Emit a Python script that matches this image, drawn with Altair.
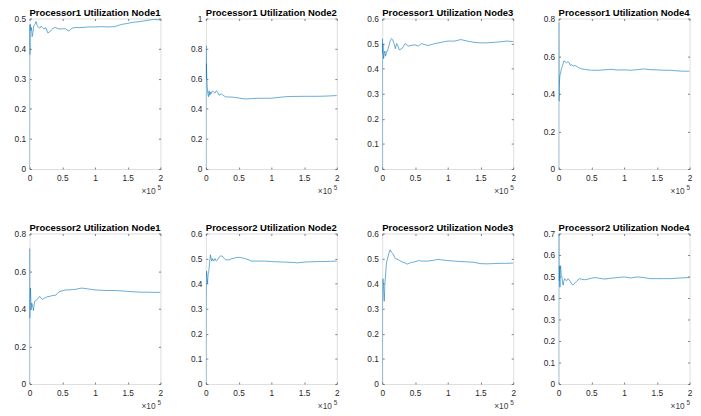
import altair as alt
import pandas as pd

TITLES = [
    "Processor1 Utilization Node1", "Processor1 Utilization Node2",
    "Processor1 Utilization Node3", "Processor1 Utilization Node4",
    "Processor2 Utilization Node1", "Processor2 Utilization Node2",
    "Processor2 Utilization Node3", "Processor2 Utilization Node4",
]
Y_MAX = [0.5, 1.0, 0.6, 0.8, 0.8, 0.6, 0.6, 0.7]
Y_TICKS = [
    [0, 0.1, 0.2, 0.3, 0.4, 0.5],
    [0, 0.2, 0.4, 0.6, 0.8, 1],
    [0, 0.1, 0.2, 0.3, 0.4, 0.5, 0.6],
    [0, 0.2, 0.4, 0.6, 0.8],
    [0, 0.2, 0.4, 0.6, 0.8],
    [0, 0.1, 0.2, 0.3, 0.4, 0.5, 0.6],
    [0, 0.1, 0.2, 0.3, 0.4, 0.5, 0.6],
    [0, 0.1, 0.2, 0.3, 0.4, 0.5, 0.6, 0.7],
]
X_TICKS = [0, 50000, 100000, 150000, 200000]
EXP_BASE = "×10"
EXP_POWER = "5"

p1n1_x = [0, 200, 500, 800, 1200, 2000, 3000, 4000, 5000, 6500, 8000, 10000, 12000, 14000, 16000, 18000, 20000, 22000, 25000, 28000, 30000, 33000, 36000, 40000, 45000, 50000, 55000, 60000, 65000, 70000, 80000, 90000, 100000, 110000, 120000, 130000, 140000, 150000, 160000, 170000, 180000, 190000, 200000]
p1n1_y = [0, 0.48, 0.38, 0.47, 0.48, 0.46, 0.47, 0.44, 0.45, 0.475, 0.48, 0.49, 0.475, 0.47, 0.468, 0.475, 0.47, 0.465, 0.47, 0.452, 0.455, 0.46, 0.468, 0.47, 0.465, 0.466, 0.466, 0.458, 0.468, 0.47, 0.47, 0.472, 0.472, 0.473, 0.472, 0.473, 0.48, 0.484, 0.488, 0.49, 0.494, 0.497, 0.495]

p1n2_x = [0, 200, 400, 700, 1000, 1500, 2000, 3000, 4000, 5000, 6000, 7000, 8000, 10000, 12000, 14000, 16000, 18000, 20000, 22000, 24000, 26000, 28000, 30000, 35000, 40000, 50000, 60000, 70000, 80000, 90000, 100000, 110000, 120000, 130000, 150000, 170000, 180000, 190000, 200000]
p1n2_y = [0, 0.82, 0.6, 0.70, 0.66, 0.6, 0.55, 0.5, 0.48, 0.52, 0.49, 0.51, 0.50, 0.52, 0.51, 0.505, 0.52, 0.51, 0.49, 0.495, 0.50, 0.49, 0.485, 0.48, 0.478, 0.478, 0.472, 0.465, 0.468, 0.47, 0.47, 0.47, 0.475, 0.48, 0.482, 0.483, 0.483, 0.484, 0.486, 0.488]

p1n3_x = [0, 200, 500, 1000, 2000, 3000, 4000, 5000, 6000, 7000, 8000, 10000, 12000, 14000, 16000, 18000, 20000, 22000, 24000, 26000, 30000, 35000, 40000, 45000, 50000, 55000, 60000, 70000, 80000, 90000, 100000, 110000, 120000, 130000, 140000, 150000, 160000, 170000, 180000, 190000, 200000]
p1n3_y = [0, 0.52, 0.46, 0.50, 0.44, 0.46, 0.47, 0.45, 0.46, 0.47, 0.47, 0.49, 0.51, 0.52, 0.515, 0.50, 0.48, 0.50, 0.49, 0.475, 0.48, 0.50, 0.49, 0.493, 0.495, 0.49, 0.50, 0.492, 0.50, 0.505, 0.51, 0.51, 0.516, 0.51, 0.505, 0.503, 0.503, 0.505, 0.507, 0.51, 0.508]

p1n4_x = [0, 150, 500, 1000, 2000, 3000, 4000, 6000, 8000, 10000, 12000, 14000, 16000, 18000, 20000, 22000, 25000, 28000, 30000, 35000, 40000, 45000, 50000, 60000, 70000, 80000, 90000, 100000, 110000, 120000, 130000, 140000, 150000, 160000, 170000, 180000, 190000, 200000]
p1n4_y = [0, 0.78, 0.36, 0.45, 0.50, 0.51, 0.53, 0.55, 0.575, 0.57, 0.565, 0.57, 0.565, 0.55, 0.555, 0.548, 0.55, 0.545, 0.54, 0.532, 0.53, 0.527, 0.525, 0.525, 0.527, 0.53, 0.526, 0.527, 0.525, 0.528, 0.532, 0.528, 0.527, 0.525, 0.525, 0.522, 0.52, 0.52]

p2n1_x = [0, 150, 400, 800, 1500, 2500, 3500, 5000, 6000, 7000, 8000, 10000, 12000, 14000, 16000, 18000, 20000, 22000, 25000, 28000, 30000, 35000, 40000, 45000, 50000, 55000, 60000, 70000, 80000, 90000, 100000, 110000, 120000, 130000, 140000, 150000, 160000, 170000, 180000, 190000, 200000]
p2n1_y = [0, 0.72, 0.35, 0.45, 0.51, 0.40, 0.43, 0.41, 0.39, 0.42, 0.44, 0.445, 0.45, 0.46, 0.465, 0.455, 0.45, 0.455, 0.46, 0.465, 0.465, 0.47, 0.472, 0.49, 0.495, 0.50, 0.50, 0.503, 0.51, 0.505, 0.50, 0.498, 0.497, 0.497, 0.495, 0.492, 0.49, 0.488, 0.488, 0.487, 0.487]

p2n2_x = [0, 200, 600, 1000, 1500, 2500, 3500, 4500, 5500, 7000, 8000, 9000, 10000, 12000, 14000, 16000, 18000, 20000, 22000, 25000, 28000, 30000, 35000, 40000, 45000, 50000, 55000, 60000, 70000, 80000, 90000, 100000, 110000, 120000, 130000, 140000, 150000, 160000, 170000, 180000, 190000, 200000]
p2n2_y = [0, 0.29, 0.42, 0.45, 0.43, 0.40, 0.44, 0.45, 0.48, 0.515, 0.50, 0.49, 0.50, 0.49, 0.50, 0.49, 0.495, 0.505, 0.51, 0.51, 0.50, 0.495, 0.495, 0.50, 0.503, 0.505, 0.503, 0.50, 0.49, 0.49, 0.49, 0.488, 0.487, 0.486, 0.485, 0.483, 0.486, 0.487, 0.488, 0.488, 0.489, 0.49]

p2n3_x = [0, 200, 600, 1000, 2000, 3000, 4000, 5000, 6000, 7000, 8000, 9000, 10000, 12000, 14000, 16000, 18000, 20000, 25000, 30000, 35000, 38000, 42000, 45000, 50000, 55000, 60000, 70000, 80000, 85000, 90000, 100000, 110000, 120000, 130000, 140000, 150000, 160000, 170000, 180000, 190000, 200000]
p2n3_y = [0, 0.31, 0.38, 0.42, 0.38, 0.33, 0.40, 0.43, 0.47, 0.49, 0.50, 0.51, 0.52, 0.535, 0.525, 0.52, 0.51, 0.50, 0.495, 0.487, 0.482, 0.478, 0.482, 0.485, 0.487, 0.492, 0.49, 0.49, 0.494, 0.497, 0.495, 0.492, 0.49, 0.488, 0.487, 0.485, 0.48, 0.479, 0.48, 0.481, 0.481, 0.482]

p2n4_x = [0, 150, 500, 1000, 1500, 2000, 2500, 3000, 4000, 5000, 6000, 7000, 8000, 9000, 10000, 12000, 14000, 16000, 18000, 20000, 22000, 25000, 28000, 32000, 35000, 40000, 45000, 50000, 55000, 60000, 70000, 80000, 90000, 100000, 110000, 120000, 130000, 140000, 150000, 160000, 170000, 180000, 190000, 200000]
p2n4_y = [0, 0.70, 0.48, 0.55, 0.50, 0.45, 0.53, 0.55, 0.51, 0.50, 0.47, 0.46, 0.48, 0.49, 0.485, 0.48, 0.49, 0.485, 0.475, 0.465, 0.46, 0.47, 0.48, 0.49, 0.487, 0.485, 0.488, 0.492, 0.495, 0.493, 0.488, 0.492, 0.495, 0.498, 0.493, 0.498, 0.495, 0.49, 0.49, 0.49, 0.49, 0.492, 0.494, 0.495]

SERIES = [
    (p1n1_x, p1n1_y), (p1n2_x, p1n2_y), (p1n3_x, p1n3_y), (p1n4_x, p1n4_y),
    (p2n1_x, p2n1_y), (p2n2_x, p2n2_y), (p2n3_x, p2n3_y), (p2n4_x, p2n4_y),
]

FONT = "Liberation Sans"
AX_COLOR = "#262626"
TICK = 2
W, H = 134, 154

def panel(i):
    xs, ys = SERIES[i]
    df = pd.DataFrame({"x": xs, "y": ys})
    xscale = alt.Scale(domain=[0, 200000], nice=False, zero=False)
    yscale = alt.Scale(domain=[0, Y_MAX[i]], nice=False)
    common = dict(grid=False, domain=False, tickSize=TICK, offset=-TICK,
                  tickColor=AX_COLOR, tickWidth=0.6)
    line = alt.Chart(df).mark_line(color="#0072BD", strokeWidth=0.6, clip=True).encode(
        x=alt.X("x:Q", scale=xscale, axis=alt.Axis(
            values=X_TICKS, orient="bottom", title=None, labelFlush=False,
            labelExpr="format(datum.value/100000, '~g')",
            labelFont=FONT, labelFontSize=8.5, labelColor=AX_COLOR, labelPadding=5,
            **common)),
        y=alt.Y("y:Q", scale=yscale, axis=alt.Axis(
            values=Y_TICKS[i], orient="left", title=None, labelFlush=False,
            labelExpr="format(datum.value, '~g')",
            labelFont=FONT, labelFontSize=8.5, labelColor=AX_COLOR, labelPadding=4,
            **common)),
    )
    frame = alt.Chart(df).mark_line(opacity=0).encode(
        x=alt.X("x:Q", scale=xscale, axis=alt.Axis(
            values=X_TICKS, orient="top", labels=False, title=None, **common)),
        y=alt.Y("y:Q", scale=yscale, axis=alt.Axis(
            values=Y_TICKS[i], orient="right", labels=False, title=None, **common)),
    )
    one = alt.Data(values=[{"k": 0}])
    exp_base = alt.Chart(one).mark_text(
        font=FONT, fontSize=8.5, color="#404040", align="right", baseline="middle"
    ).encode(x=alt.value(W - 5), y=alt.value(H + 23), text=alt.value(EXP_BASE))
    exp_pow = alt.Chart(one).mark_text(
        font=FONT, fontSize=6.5, color="#404040", align="right", baseline="middle"
    ).encode(x=alt.value(W + 0.5), y=alt.value(H + 19), text=alt.value(EXP_POWER))
    return alt.layer(line, frame, exp_base, exp_pow).resolve_axis(
        x="independent", y="independent").properties(
        width=W, height=H,
        title=alt.TitleParams(TITLES[i], font=FONT, fontSize=9.7, fontWeight="bold",
                              color="#000000", offset=-3, anchor="middle"),
    )

row1 = alt.hconcat(*[panel(i) for i in range(4)], spacing=26.5)
row2 = alt.hconcat(*[panel(i) for i in range(4, 8)], spacing=26.5)
chart = alt.vconcat(row1, row2, spacing=26).properties(
    padding={"left": 5, "top": -6, "right": 0, "bottom": 0}
).configure_view(stroke="#4d4d4d", strokeWidth=0.7).configure(background="white")

chart.save("out.html", embed_options={"renderer": "svg", "actions": False})
